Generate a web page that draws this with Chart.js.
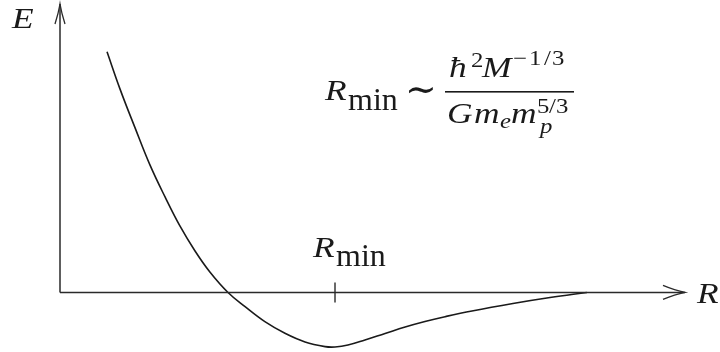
<!DOCTYPE html>
<html>
<head>
<meta charset="utf-8">
<script src="https://cdn.jsdelivr.net/npm/chart.js@4"></script>
<style>
  html, body { margin: 0; padding: 0; background: #ffffff; }
  #wrap { width: 720px; height: 352px; }
</style>
</head>
<body>
<div id="wrap"><canvas id="c" width="720" height="352"></canvas></div>
<script>
// Energy of a self-gravitating electron/proton sphere as a function of radius
// (arbitrary units: R_min = 1, E(R_min) = -1).
const radius = [0.171, 0.218, 0.273, 0.327, 0.382, 0.436, 0.491, 0.545, 0.611, 0.673, 0.745, 0.818, 0.891, 0.964, 1.000, 1.047, 1.109, 1.182, 1.255, 1.327, 1.400, 1.498, 1.647, 1.782, 1.916];
const energy = [4.413, 3.734, 3.018, 2.339, 1.752, 1.220, 0.761, 0.376, 0.000, -0.261, -0.536, -0.749, -0.908, -0.993, -1.000, -0.965, -0.872, -0.752, -0.633, -0.532, -0.444, -0.339, -0.202, -0.092, 0.000];
const R_MIN = 1.0;
const axisLabels = { x: 'R', y: 'E' };

const SERIF = "'Liberation Serif', 'DejaVu Serif', serif";
const INK = '#1a1a1a';

const IT = `italic 30px ${SERIF}`;
const RM = `32px ${SERIF}`;
const SUP = `21px ${SERIF}`;
const SUPIT = `italic 21px ${SERIF}`;
const WIDEN = 1.18;   // glyphs drawn slightly wide, like a math font

// Each piece of the formula: text, font, left x, baseline y.
const formula = [
  ['R', IT, 325, 100],
  ['min', RM, 348, 110],
  ['∼', `38px ${SERIF}`, 405, 102],
  // numerator
  ['ħ', IT, 449, 77],
  ['2', SUP, 471, 67],
  ['M', IT, 482, 77],
  ['−', SUP, 513, 65],
  ['1', SUP, 529, 65],
  ['/', SUP, 544, 65],
  ['3', SUP, 552, 65],
  // denominator
  ['G', IT, 447, 123],
  ['m', IT, 474, 123],
  ['e', SUPIT, 500, 128],
  ['m', IT, 511, 123],
  ['5', SUP, 537, 113],
  ['/', SUP, 549, 113],
  ['3', SUP, 556, 113],
  ['p', SUPIT, 540, 133]
];

function putText(ctx, t, font, x, y, sx) {
  ctx.save();
  ctx.font = font;
  ctx.translate(x, y);
  ctx.scale(sx, 1);
  ctx.fillText(t, 0, 0);
  ctx.restore();
}

const annotations = {
  id: 'annotations',
  afterDatasetsDraw(chart) {
    const { ctx } = chart;
    const xs = chart.scales.x, ys = chart.scales.y;
    const x0 = xs.getPixelForValue(0);
    const y0 = ys.getPixelForValue(0);
    const xEnd = xs.right;
    const yTop = ys.top;

    ctx.save();
    ctx.strokeStyle = '#2a2a2a';
    ctx.lineWidth = 1.5;

    // Axes
    ctx.beginPath();
    ctx.moveTo(x0, y0);
    ctx.lineTo(xEnd, y0);
    ctx.moveTo(x0, y0);
    ctx.lineTo(x0, yTop);
    ctx.stroke();

    // Arrow heads (curved barbs)
    ctx.lineWidth = 1.3;
    ctx.beginPath();
    ctx.moveTo(xEnd - 22, y0 - 7);
    ctx.quadraticCurveTo(xEnd - 10, y0 - 2, xEnd, y0);
    ctx.quadraticCurveTo(xEnd - 10, y0 + 2, xEnd - 22, y0 + 7);
    ctx.moveTo(x0 - 5, yTop + 20);
    ctx.quadraticCurveTo(x0 - 1.5, yTop + 9, x0, yTop);
    ctx.quadraticCurveTo(x0 + 1.5, yTop + 9, x0 + 5, yTop + 20);
    ctx.stroke();

    // Tick at R_min
    const xm = xs.getPixelForValue(R_MIN);
    ctx.lineWidth = 1.4;
    ctx.beginPath();
    ctx.moveTo(xm, y0 - 10);
    ctx.lineTo(xm, y0 + 10);
    ctx.stroke();

    ctx.fillStyle = INK;
    ctx.textBaseline = 'alphabetic';
    ctx.textAlign = 'left';

    // Axis labels
    putText(ctx, axisLabels.y, IT, 12, 28, WIDEN);
    putText(ctx, axisLabels.x, IT, xEnd + 12, y0 + 11, WIDEN);

    // R_min label above the tick
    putText(ctx, 'R', IT, xm - 22, y0 - 35, WIDEN);
    putText(ctx, 'min', RM, xm + 1, y0 - 26, 1.0);

    // R_min ~ ħ² M^(-1/3) / (G m_e m_p^(5/3))
    for (const [t, font, x, y] of formula) {
      putText(ctx, t, font, x, y, t === 'min' || t === '∼' ? 1.0 : WIDEN);
    }
    ctx.fillRect(445, 91, 129, 1.6);

    ctx.restore();
  }
};

new Chart(document.getElementById('c'), {
  type: 'line',
  data: {
    datasets: [{
      data: radius.map((r, i) => ({ x: r, y: energy[i] })),
      borderColor: INK,
      borderWidth: 1.6,
      pointRadius: 0,
      fill: false,
      tension: 0.4,
      clip: false
    }]
  },
  options: {
    responsive: false,
    animation: false,
    devicePixelRatio: 1,
    layout: { padding: { left: 60, right: 35, top: 4, bottom: 2 } },
    plugins: { legend: { display: false }, tooltip: { enabled: false } },
    scales: {
      x: { type: 'linear', display: false, min: 0, max: 2.2727 },
      y: { type: 'linear', display: false, min: -1.055, max: 5.29 }
    }
  },
  plugins: [annotations]
});
</script>
</body>
</html>
